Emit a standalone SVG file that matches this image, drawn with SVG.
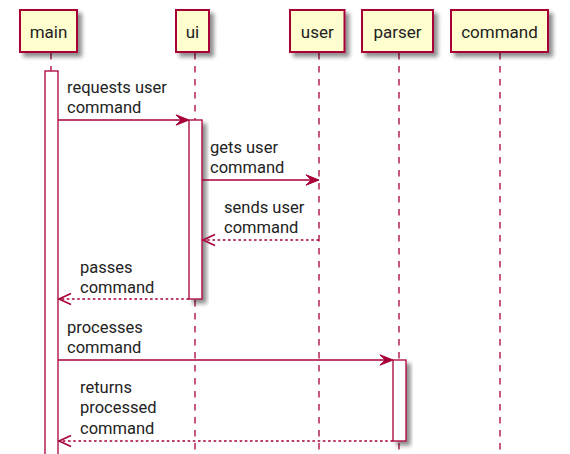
<svg xmlns="http://www.w3.org/2000/svg" width="570" height="454" viewBox="0 0 570 454">
<style>
.bg{fill:#ffffff}
.box{fill:#FEFECE;stroke:#A80036;stroke-width:2}
.act{fill:#ffffff;stroke:#A80036;stroke-width:1.3}
.life{stroke:#A80036;stroke-width:1.3;stroke-dasharray:6.5,6.5;fill:none}
.msg{stroke:#A80036;stroke-width:1.3;fill:none}
.ret{stroke:#A80036;stroke-width:1.3;fill:none;stroke-dasharray:2.6,2.6}
.head{fill:#A80036;stroke:#A80036;stroke-width:1}
.ohead{fill:none;stroke:#A80036;stroke-width:1.6}
.pl{font-family:Roboto,"Liberation Sans",sans-serif;font-size:17px;fill:#222;text-anchor:middle}
.ml{font-family:Roboto,"Liberation Sans",sans-serif;font-size:16.5px;fill:#222}
</style>
<defs>
<filter id="sh" x="-50%" y="-50%" width="200%" height="200%">
<feGaussianBlur in="SourceAlpha" stdDeviation="2"/>
<feOffset dx="4" dy="4" result="b"/>
<feComponentTransfer><feFuncA type="linear" slope="0.45"/></feComponentTransfer>
<feMerge><feMergeNode/><feMergeNode in="SourceGraphic"/></feMerge>
</filter>
</defs>
<rect class="bg" x="0" y="0" width="570" height="454"/>
<g id="lifelines">
<line class="life" x1="51" y1="53" x2="51" y2="454"/>
<line class="life" x1="195" y1="53" x2="195" y2="454"/>
<line class="life" x1="319" y1="53" x2="319" y2="454"/>
<line class="life" x1="399" y1="53" x2="399" y2="454"/>
<line class="life" x1="500" y1="53" x2="500" y2="454"/>
</g>
<g id="main">
<rect class="box" filter="url(#sh)" x="20" y="10" width="57" height="42"/>
<text class="pl" x="48.5" y="38">main</text>
<rect class="act" x="45" y="71" width="13" height="390"/>
</g>
<g id="ui">
<rect class="box" filter="url(#sh)" x="176" y="10" width="33" height="42"/>
<text class="pl" x="192.5" y="38">ui</text>
<rect class="act" filter="url(#sh)" x="189" y="120" width="13" height="179"/>
</g>
<g id="user">
<rect class="box" filter="url(#sh)" x="290" y="10" width="54.5" height="42"/>
<text class="pl" x="317.3" y="38">user</text>
</g>
<g id="parser">
<rect class="box" filter="url(#sh)" x="362" y="10" width="71" height="42"/>
<text class="pl" x="397.5" y="38">parser</text>
<rect class="act" filter="url(#sh)" x="393" y="360" width="13" height="81"/>
</g>
<g id="command">
<rect class="box" filter="url(#sh)" x="451" y="10" width="97" height="42"/>
<text class="pl" x="499.5" y="38">command</text>
</g>
<g id="connectors">
<line class="msg" x1="58" y1="120" x2="187" y2="120"/>
<polygon class="head" points="189,120 176,114.8 181.2,120 176,125.2"/>
<line class="msg" x1="202" y1="180" x2="317" y2="180"/>
<polygon class="head" points="319,180 306,174.8 311.2,180 306,185.2"/>
<line class="ret" x1="319" y1="240" x2="204" y2="240"/>
<polyline class="ohead" points="215,234.5 203,240 215,245.5"/>
<line class="ret" x1="189" y1="299" x2="60" y2="299"/>
<polyline class="ohead" points="71,293.5 59,299 71,304.5"/>
<line class="msg" x1="58" y1="360" x2="391" y2="360"/>
<polygon class="head" points="393,360 380,354.8 385.2,360 380,365.2"/>
<line class="ret" x1="393" y1="441" x2="60" y2="441"/>
<polyline class="ohead" points="71,435.5 59,441 71,446.5"/>
</g>
<g id="labels">
<text class="ml" x="67" y="93">requests user</text>
<text class="ml" x="67" y="113">command</text>
<text class="ml" x="210" y="153">gets user</text>
<text class="ml" x="210" y="173">command</text>
<text class="ml" x="224" y="213">sends user</text>
<text class="ml" x="224" y="233">command</text>
<text class="ml" x="80" y="273">passes</text>
<text class="ml" x="80" y="293">command</text>
<text class="ml" x="67" y="333">processes</text>
<text class="ml" x="67" y="353">command</text>
<text class="ml" x="80" y="393">returns</text>
<text class="ml" x="80" y="413">processed</text>
<text class="ml" x="80" y="434">command</text>
</g>
</svg>
